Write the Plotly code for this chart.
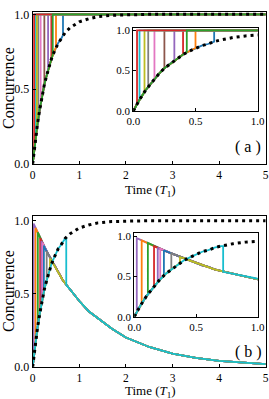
import plotly.graph_objects as go

# ---------------- data ----------------
t_grid = [0, 0.05, 0.1, 0.15, 0.2, 0.25, 0.3, 0.35, 0.4, 0.45, 0.5, 0.55, 0.6,
          0.65, 0.7, 0.8, 0.9, 1.0, 1.2, 1.4, 1.7, 2.0, 2.5, 3.0, 3.5, 4.0, 4.5, 5.0]
rise_vals = [0.0, 0.14, 0.26, 0.36, 0.45, 0.53, 0.59, 0.65, 0.70, 0.74, 0.78, 0.81, 0.83,
             0.86, 0.88, 0.91, 0.93, 0.95, 0.97, 0.985, 0.994, 0.998, 1.0, 1.0, 1.0, 1.0, 1.0, 1.0]
decay_vals = [1.0, 0.96, 0.92, 0.89, 0.85, 0.82, 0.79, 0.76, 0.73, 0.70, 0.67, 0.64, 0.62,
              0.59, 0.57, 0.53, 0.49, 0.45, 0.38, 0.33, 0.26, 0.20, 0.135, 0.09, 0.06, 0.04, 0.027, 0.018]

# panel (a): switch times and the concurrence reached at the switch
a_jump_t = [0.65, 0.50, 0.40, 0.33, 0.25, 0.17, 0.12, 0.09, 0.05, 0.03, 0.43]
a_jump_c = [0.86, 0.78, 0.70, 0.63, 0.53, 0.40, 0.30, 0.24, 0.14, 0.09, 0.73]
a_colors = ["#1f77b4", "#ff7f0e", "#d62728", "#9467bd", "#8c564b", "#e377c2",
            "#7f7f7f", "#bcbd22", "#17becf", "#d62728", "#2ca02c"]

# panel (b): switch times, lower (rising) and upper (decaying) values
b_jump_t = [0.02, 0.06, 0.11, 0.16, 0.19, 0.21, 0.24, 0.30, 0.37, 0.72]
b_jump_low = [0.06, 0.16, 0.28, 0.38, 0.43, 0.47, 0.51, 0.59, 0.67, 0.88]
b_jump_high = [0.98, 0.95, 0.92, 0.88, 0.86, 0.85, 0.83, 0.79, 0.74, 0.56]
b_colors = ["#9467bd", "#ff7f0e", "#2ca02c", "#d62728", "#9467bd", "#e377c2",
            "#1f77b4", "#7f7f7f", "#bcbd22", "#17becf"]

x_ticks_main = [0, 1, 2, 3, 4, 5]
y_ticks = [0.0, 0.5, 1.0]
y_tick_text = ["0.0", "0.5", "1.0"]
x_ticks_inset = [0.0, 0.5, 1.0]
x_tick_text_inset = ["0.0", "0.5", "1.0"]

W, H = 269, 399
FONT = "Liberation Serif"

fig = go.Figure()

def add_line(xs, ys, color, xa, ya, width=1.8, dash=None):
    fig.add_trace(go.Scatter(x=xs, y=ys, mode="lines",
                             line=dict(color=color, width=width, dash=dash),
                             xaxis=xa, yaxis=ya, showlegend=False, hoverinfo="skip"))

for (xa, ya) in [("x", "y"), ("x2", "y2")]:
    for tk, ck, col in zip(a_jump_t, a_jump_c, a_colors):
        xs = [t for t in t_grid if t < tk] + [tk, tk, 5.0]
        ys = [v for t, v in zip(t_grid, rise_vals) if t < tk] + [ck, 1.0, 1.0]
        add_line(xs, ys, col, xa, ya)
    add_line(t_grid, rise_vals, "black", xa, ya, width=3, dash="3px,4px")

for (xa, ya) in [("x3", "y3"), ("x4", "y4")]:
    for tk, lo, hi, col in zip(b_jump_t, b_jump_low, b_jump_high, b_colors):
        xs = [t for t in t_grid if t < tk] + [tk, tk] + [t for t in t_grid if t > tk]
        ys = ([v for t, v in zip(t_grid, rise_vals) if t < tk] + [lo, hi] +
              [v for t, v in zip(t_grid, decay_vals) if t > tk])
        add_line(xs, ys, col, xa, ya)
    add_line(t_grid, rise_vals, "black", xa, ya, width=3, dash="3px,4px")

def px_x(p):
    return p / W

def px_y(p):
    return 1 - p / H

axis_common = dict(showline=True, linecolor="black", linewidth=1.2, mirror=True,
                   showgrid=False, zeroline=False, ticks="inside", ticklen=3,
                   tickcolor="black", automargin=False)

layout = dict(
    width=W, height=H,
    margin=dict(l=0, r=0, t=0, b=0),
    paper_bgcolor="white", plot_bgcolor="white",
    font=dict(family=FONT, color="black"),
    xaxis=dict(domain=[px_x(32.7), px_x(265.7)], range=[0, 5], anchor="y",
               tickvals=x_ticks_main, tickfont=dict(size=11.5), **axis_common),
    yaxis=dict(domain=[px_y(163.7), px_y(12.1)], range=[0, 1.015], anchor="x",
               tickvals=y_ticks, ticktext=y_tick_text, tickfont=dict(size=12), **axis_common),
    xaxis2=dict(domain=[px_x(133.3), px_x(257.7)], range=[0, 1], anchor="y2",
                tickvals=x_ticks_inset, ticktext=x_tick_text_inset, tickfont=dict(size=11), **axis_common),
    yaxis2=dict(domain=[px_y(111), px_y(27.7)], range=[0, 1.032], anchor="x2",
                tickvals=y_ticks, ticktext=y_tick_text, tickfont=dict(size=11), **axis_common),
    xaxis3=dict(domain=[px_x(32.7), px_x(265.7)], range=[0, 5], anchor="y3",
                tickvals=x_ticks_main, tickfont=dict(size=11.5), **axis_common),
    yaxis3=dict(domain=[px_y(366.7), px_y(216)], range=[0, 1.032], anchor="x3",
                tickvals=y_ticks, ticktext=y_tick_text, tickfont=dict(size=12), **axis_common),
    xaxis4=dict(domain=[px_x(134.3), px_x(257.7)], range=[0, 1], anchor="y4",
                tickvals=x_ticks_inset, ticktext=x_tick_text_inset, tickfont=dict(size=11), **axis_common),
    yaxis4=dict(domain=[px_y(316.7), px_y(233.3)], range=[0, 1.04], anchor="x4",
                tickvals=y_ticks, ticktext=y_tick_text, tickfont=dict(size=11), **axis_common),
)
fig.update_layout(**layout)

ann = [
    dict(text="Concurrence", x=px_x(8), y=px_y(88), textangle=-90, font=dict(size=16)),
    dict(text="Concurrence", x=px_x(8), y=px_y(291), textangle=-90, font=dict(size=16)),
    dict(text="Time (<i>T</i><sub>1</sub>)", x=px_x(150), y=px_y(190.5), font=dict(size=13)),
    dict(text="Time (<i>T</i><sub>1</sub>)", x=px_x(150), y=px_y(391.6), font=dict(size=13)),
    dict(text="( a )", x=px_x(248), y=px_y(147), font=dict(size=16)),
    dict(text="( b )", x=px_x(248), y=px_y(352), font=dict(size=16)),
]
for a in ann:
    fig.add_annotation(xref="paper", yref="paper", showarrow=False,
                       xanchor="center", yanchor="middle", **a)

fig.write_html("out.html", config={"displayModeBar": False},
               post_script="document.body.style.margin='0';document.body.style.overflow='hidden';")
